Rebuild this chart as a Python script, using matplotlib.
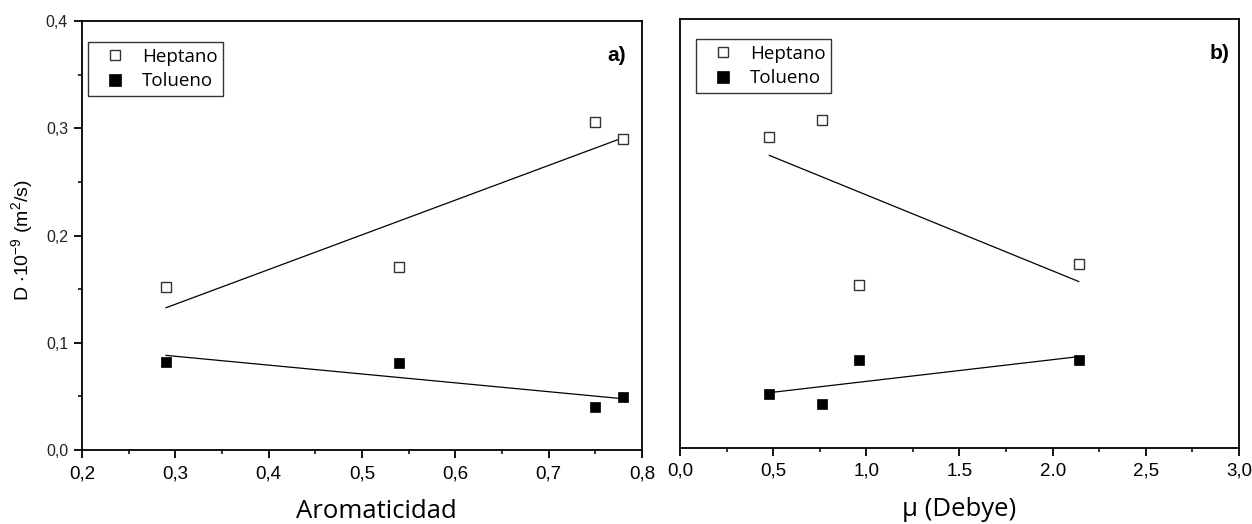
import numpy as np
import matplotlib
matplotlib.use("Agg")
import matplotlib.pyplot as plt
from matplotlib.ticker import MultipleLocator, FixedLocator, FixedFormatter

# Four asphaltene samples
aromaticidad = [0.29, 0.54, 0.75, 0.78]
mu_debye = [0.96, 2.14, 0.76, 0.48]
D_heptano = [0.152, 0.171, 0.306, 0.290]
D_tolueno = [0.082, 0.0815, 0.0405, 0.0498]

y_ticks = [0.0, 0.1, 0.2, 0.3, 0.4]
y_ticklabels = ["0,0", "0,1", "0,2", "0,3", "0,4"]
xa_ticks = [0.2, 0.3, 0.4, 0.5, 0.6, 0.7, 0.8]
xa_ticklabels = ["0,2", "0,3", "0,4", "0,5", "0,6", "0,7", "0,8"]
xb_ticks = [0.0, 0.5, 1.0, 1.5, 2.0, 2.5, 3.0]
xb_ticklabels = ["0,0", "0,5", "1,0", "1.5", "2.0", "2,5", "3,0"]

plt.rcParams["font.family"] = ["Liberation Sans", "DejaVu Sans"]
plt.rcParams["mathtext.default"] = "regular"

W, H = 1252, 524
fig = plt.figure(figsize=(W / 100, H / 100), dpi=100)


def frac(x0, y0, x1, y1):
    return [x0 / W, 1 - y1 / H, (x1 - x0) / W, (y1 - y0) / H]


ax1 = fig.add_axes(frac(82, 21, 642, 450))
ax2 = fig.add_axes(frac(680, 19, 1239, 447.5))

hollow = dict(marker="s", linestyle="none", markersize=6.6, markerfacecolor="white",
              markeredgecolor="#333333", markeredgewidth=1.0)
filled = dict(marker="s", linestyle="none", markersize=7.0, markerfacecolor="black",
              markeredgecolor="black", markeredgewidth=0.5)


def fit_line(ax, x, y):
    x = np.asarray(x)
    y = np.asarray(y)
    m, b = np.polyfit(x, y, 1)
    xs = np.array([x.min(), x.max()])
    ax.plot(xs, m * xs + b, color="black", lw=0.9, zorder=2)


legend_anchor = {ax1: (0.011, 0.951), ax2: (0.029, 0.953)}

for ax, xv in ((ax1, aromaticidad), (ax2, mu_debye)):
    ax.plot(xv, D_heptano, label="Heptano", zorder=3, **hollow)
    ax.plot(xv, D_tolueno, label="Tolueno", zorder=3, **filled)
    fit_line(ax, xv, D_heptano)
    fit_line(ax, xv, D_tolueno)
    ax.set_ylim(0, 0.4)
    for sp in ax.spines.values():
        sp.set_linewidth(1.3)
    ax.tick_params(axis="x", which="major", direction="out", length=6, width=1.3,
                   labelsize=13.5, pad=5, colors="black")
    ax.tick_params(axis="x", which="minor", direction="out", length=3, width=1.1)
    ax.tick_params(axis="y", which="major", direction="out", length=6, width=1.3,
                   labelsize=11.5, pad=4, labelcolor="#222222")
    ax.tick_params(axis="y", which="minor", direction="out", length=3, width=1.1)
    leg = ax.legend(loc="upper left", bbox_to_anchor=legend_anchor[ax], frameon=True,
                    fancybox=False, edgecolor="black",
                    prop={"family": "Open Sans", "size": 13.5}, handlelength=2.28,
                    handletextpad=0.3, borderpad=0.3, labelspacing=0.35,
                    borderaxespad=0.0, markerscale=1.15)
    leg.get_frame().set_linewidth(1.0)

# Panel a)
ax1.set_xlim(0.2, 0.8)
ax1.xaxis.set_major_locator(FixedLocator(xa_ticks))
ax1.xaxis.set_major_formatter(FixedFormatter(xa_ticklabels))
ax1.xaxis.set_minor_locator(MultipleLocator(0.05))
ax1.yaxis.set_major_locator(FixedLocator(y_ticks))
ax1.yaxis.set_major_formatter(FixedFormatter(y_ticklabels))
ax1.yaxis.set_minor_locator(MultipleLocator(0.05))
ax1.set_xlabel("Aromaticidad", family="Open Sans", fontsize=18.5)
ax1.xaxis.set_label_coords(0.525, -0.115)
ax1.set_ylabel(r"D $\cdot$10$^{-9}$ (m$^{2}$/s)", fontsize=14)
ax1.yaxis.set_label_coords(-0.084, 0.49)
ax1.text(0.955, 0.92, "a)", transform=ax1.transAxes, fontsize=15, fontweight="bold",
         ha="center", va="center")

# Panel b)
ax2.set_xlim(0, 3.0)
ax2.xaxis.set_major_locator(FixedLocator(xb_ticks))
ax2.xaxis.set_major_formatter(FixedFormatter(xb_ticklabels))
ax2.xaxis.set_minor_locator(MultipleLocator(0.25))
ax2.set_yticks([])
ax2.tick_params(axis="y", which="both", left=False, labelleft=False)
ax2.set_xlabel("μ (Debye)", family="Open Sans", fontsize=18.5)
ax2.xaxis.set_label_coords(0.5, -0.115)
ax2.text(0.965, 0.92, "b)", transform=ax2.transAxes, fontsize=15, fontweight="bold",
         ha="center", va="center")

fig.savefig("out.png", dpi=100)
